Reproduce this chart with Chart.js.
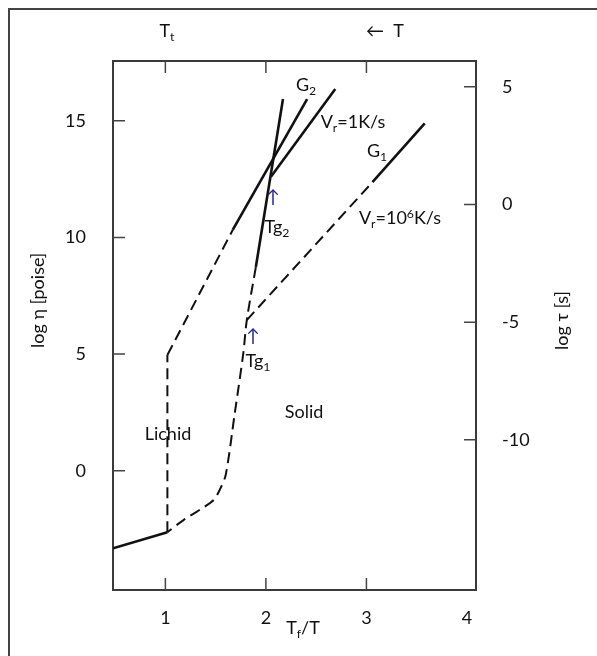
<!DOCTYPE html>
<html><head><meta charset="utf-8">
<script src="https://cdn.jsdelivr.net/npm/chart.js@4/dist/chart.umd.min.js"></script>
<style>html,body{margin:0;padding:0;background:#fff}canvas{display:block}</style>
</head><body>
<canvas id="c" width="597" height="656"></canvas>
<script>
// ---- axis ticks ----
const xTickValues = [1, 2, 3, 4];
const xTickLabels = ['1', '2', '3', '4'];
const xTickMarkValues = [1, 2, 3];
const yLeftTickValues = [15, 10, 5, 0];
const yRightTickValues = [5, 0, -5, -10];

// ---- curves (x = Tf/T, y = log η [poise]) ----
const liquidLow = [{x: 0.48, y: -3.32}, {x: 1.02, y: -2.63}];
const liquidVertical = [{x: 1.02, y: -2.63}, {x: 1.02, y: 4.96}];
const liquidMid = [{x: 1.02, y: 4.96}, {x: 1.67, y: 10.32}];
const g2Line = [{x: 1.67, y: 10.32}, {x: 2.41, y: 15.93}];
const steepSolid = [{x: 2.17, y: 15.93}, {x: 1.90, y: 8.73}];
const steepDashed = [
  {x: 1.90, y: 8.73}, {x: 1.81, y: 6.46}, {x: 1.775, y: 5.03}, {x: 1.69, y: 2.46},
  {x: 1.60, y: -0.18}, {x: 1.54, y: -0.82}, {x: 1.48, y: -1.25}, {x: 1.34, y: -1.68},
  {x: 1.18, y: -2.11}, {x: 1.02, y: -2.63}
];
const vr1Line = [{x: 2.05, y: 12.60}, {x: 2.69, y: 16.36}];
const g1Dashed = [{x: 1.81, y: 6.46}, {x: 3.06, y: 12.37}];
const g1Solid = [{x: 3.06, y: 12.37}, {x: 3.58, y: 14.89}];

const FONT = 'Lato, "Open Sans", "DejaVu Sans", sans-serif';
const INK = '#111';
const ARROW = '#25258a';
const FRAME = '#3a3a3a';

function ds(data, dashed, tension) {
  return {
    data, showLine: true, pointRadius: 0, borderColor: INK,
    borderWidth: dashed ? 2 : 2.6, borderDash: dashed ? [11, 6] : [],
    tension: tension || 0, xAxisID: 'x', yAxisID: 'y', fill: false
  };
}

// rich text helper: segs = [[text, kind]] kind: undefined|'sub'|'sup'
function drawRich(ctx, segs, cx, cy, size, color) {
  const parts = segs.map(([t, k]) => {
    const s = k ? size * 0.68 : size;
    ctx.font = s + 'px ' + FONT;
    return {t, k, s, w: ctx.measureText(t).width};
  });
  const total = parts.reduce((a, p) => a + p.w, 0);
  let x = cx - total / 2;
  const base = cy + size * 0.36;
  ctx.fillStyle = color || INK;
  ctx.textAlign = 'left';
  ctx.textBaseline = 'alphabetic';
  for (const p of parts) {
    ctx.font = p.s + 'px ' + FONT;
    const y = p.k === 'sub' ? base + size * 0.22 : p.k === 'sup' ? base - size * 0.38 : base;
    ctx.fillText(p.t, x, y);
    x += p.w;
  }
}

const texts = [
  {segs: [['Lichid']], x: 168, y: 434},
  {segs: [['Solid']], x: 304, y: 412},
  {segs: [['G'], ['2', 'sub']], x: 306, y: 85},
  {segs: [['V'], ['r', 'sub'], ['=1K/s']], x: 353, y: 122},
  {segs: [['G'], ['1', 'sub']], x: 377, y: 151},
  {segs: [['V'], ['r', 'sub'], ['=10'], ['6', 'sup'], ['K/s']], x: 400, y: 218},
  {segs: [['↑']], x: 273, y: 197, color: ARROW},
  {segs: [['Tg'], ['2', 'sub']], x: 277, y: 227},
  {segs: [['↑']], x: 253, y: 336, color: ARROW},
  {segs: [['Tg'], ['1', 'sub']], x: 258, y: 361},
  {segs: [['T'], ['t', 'sub']], x: 167, y: 31},
  {segs: [['←  T']], x: 385, y: 31},
  {segs: [['T'], ['f', 'sub'], ['/T']], x: 303, y: 628}
];

const deco = {
  id: 'deco',
  beforeDraw(chart) {
    const ctx = chart.ctx;
    ctx.save();
    ctx.fillStyle = '#fff';
    ctx.fillRect(0, 0, chart.width, chart.height);
    ctx.strokeStyle = '#444';
    ctx.lineWidth = 2;
    ctx.beginPath();
    ctx.moveTo(9, chart.height); ctx.lineTo(9, 9); ctx.lineTo(chart.width, 9);
    ctx.stroke();
    ctx.restore();
  },
  afterDraw(chart) {
    const ctx = chart.ctx;
    const {left, right, top, bottom} = chart.chartArea;
    const L = 12;
    ctx.save();
    ctx.strokeStyle = '#444';
    ctx.lineWidth = 1.5;
    ctx.beginPath();
    for (const v of xTickMarkValues) {
      const px = chart.scales.x.getPixelForValue(v);
      ctx.moveTo(px, bottom); ctx.lineTo(px, bottom - L);
      const pt = chart.scales.x2.getPixelForValue(v);
      ctx.moveTo(pt, top); ctx.lineTo(pt, top + L);
    }
    for (const v of yLeftTickValues) {
      const py = chart.scales.y.getPixelForValue(v);
      ctx.moveTo(left, py); ctx.lineTo(left + L, py);
    }
    for (const v of yRightTickValues) {
      const py = chart.scales.y2.getPixelForValue(v);
      ctx.moveTo(right, py); ctx.lineTo(right - L, py);
    }
    ctx.stroke();

    for (const t of texts) drawRich(ctx, t.segs, t.x, t.y, 18, t.color);

    // axis titles (rotated)
    ctx.fillStyle = INK;
    ctx.font = '18px ' + FONT;
    ctx.textAlign = 'left';
    ctx.textBaseline = 'middle';
    ctx.save();
    ctx.translate(38, 348); ctx.rotate(-Math.PI / 2);
    ctx.fillText('log η [poise]', 0, 0);
    ctx.restore();
    ctx.save();
    ctx.translate(562, 350); ctx.rotate(-Math.PI / 2);
    ctx.fillText('log τ [s]', 0, 0);
    ctx.restore();
    ctx.restore();
  }
};

const border = {display: true, color: FRAME, width: 2};
const tickFont = {family: FONT, size: 18};

new Chart(document.getElementById('c'), {
  type: 'scatter',
  data: {
    datasets: [
      ds(liquidLow, false), ds(liquidVertical, true), ds(liquidMid, true),
      ds(g2Line, false), ds(steepSolid, false), ds(steepDashed, true, 0.3),
      ds(vr1Line, false), ds(g1Dashed, true), ds(g1Solid, false)
    ]
  },
  options: {
    responsive: false, animation: false, devicePixelRatio: 1,
    layout: {padding: 0},
    plugins: {legend: {display: false}, tooltip: {enabled: false}},
    scales: {
      x: {
        type: 'linear', position: 'bottom', min: 0.479, max: 4.090,
        afterBuildTicks: s => { s.ticks = xTickValues.map(v => ({value: v})); },
        afterFit: s => { s.height = 66; },
        grid: {display: false, drawTicks: false}, border,
        ticks: {padding: 17, color: INK, font: tickFont,
          callback: v => { const i = xTickValues.indexOf(v); return i >= 0 ? xTickLabels[i] : ''; }}
      },
      x2: {
        type: 'linear', position: 'top', min: 0.479, max: 4.090,
        afterFit: s => { s.height = 61; },
        grid: {display: false, drawTicks: false}, border, ticks: {display: false}
      },
      y: {
        type: 'linear', position: 'left', min: -5.107, max: 17.56,
        afterBuildTicks: s => { s.ticks = yLeftTickValues.map(v => ({value: v})); },
        afterFit: s => { s.width = 113; },
        grid: {display: false, drawTicks: false}, border,
        ticks: {padding: 27, color: INK, font: tickFont}
      },
      y2: {
        type: 'linear', position: 'right', min: -16.38, max: 6.096,
        afterBuildTicks: s => { s.ticks = yRightTickValues.map(v => ({value: v})); },
        afterFit: s => { s.width = 121; },
        grid: {display: false, drawTicks: false}, border,
        ticks: {padding: 26, color: INK, font: tickFont}
      }
    }
  },
  plugins: [deco]
});
</script>
</body></html>
